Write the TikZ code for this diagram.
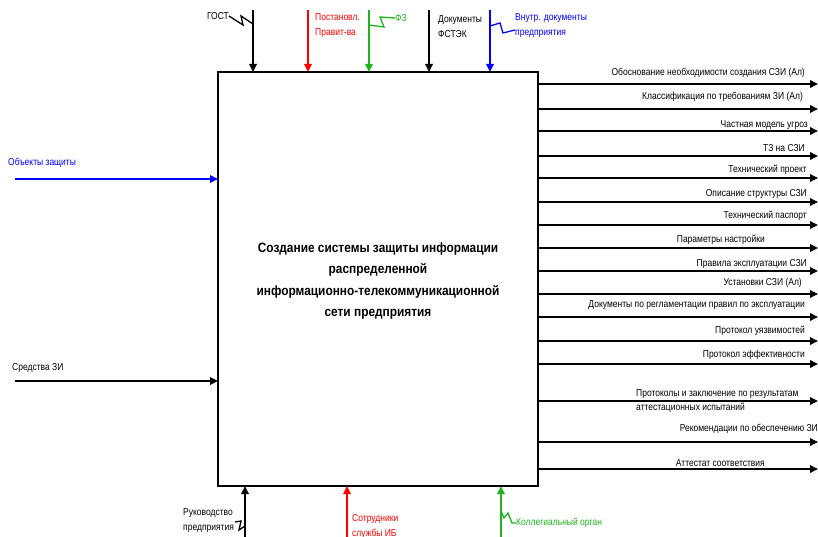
\documentclass[tikz,border=0pt]{standalone}
\usepackage{fontspec}
\setmainfont{Liberation Sans}
\newfontfamily\lbl[FakeStretch=0.85]{Liberation Sans}
\newfontfamily\ttl[FakeStretch=0.88]{Liberation Sans}
\usetikzlibrary{arrows.meta}
\definecolor{idgreen}{RGB}{30,180,30}
\definecolor{idblue}{RGB}{0,0,255}
\definecolor{idred}{RGB}{255,0,0}
\begin{document}
\begin{tikzpicture}[x=1pt,y=-1pt,
  lab/.style={font=\lbl\fontsize{10}{15}\selectfont, inner sep=0pt, align=left},
  arr/.style={line width=1.7pt,-{Triangle[length=8pt,width=7.5pt]}},
  zig/.style={line width=1.3pt}]
\useasboundingbox (0,0) rectangle (818,537);
% main box
\node[draw, line width=2.5pt, minimum width=320pt, minimum height=414pt, inner sep=0pt, outer sep=0pt, anchor=north west] (box) at (218,72) {};
\node[font=\ttl\bfseries\fontsize{13.5}{21.3}\selectfont, align=center, inner sep=0pt] (title) at (378,281)
  {Создание системы защиты информации\\распределенной\\информационно-телекоммуникационной\\сети предприятия};

% ---- top controls ----
\coordinate (c1) at (253,10);
\coordinate (c2) at (308,10);
\coordinate (c3) at (369,10);
\coordinate (c4) at (429,10);
\coordinate (c5) at (490,10);
\draw[arr] (c1) -- (c1 |- box.north);
\draw[arr, idred] (c2) -- (c2 |- box.north);
\draw[arr, idgreen] (c3) -- (c3 |- box.north);
\draw[arr] (c4) -- (c4 |- box.north);
\draw[arr, idblue] (c5) -- (c5 |- box.north);

\node[lab, anchor=east] (tgost) at (229,16) {ГОСТ};
\draw[zig] (tgost.east) -- (243,25) -- (241,16) -- (253,24);
\node[lab, anchor=north west, text=idred] (tpost) at (315,13) {Постановл.\\Правит-ва};
\node[lab, anchor=west, text=idgreen] (tfz) at (395,18) {ФЗ};
\draw[zig, idgreen] (369,25) -- (384,27) -- (380,17) -- (tfz.west);
\node[lab, anchor=north west] (tfst) at (438,15) {Документы\\ФСТЭК};
\node[lab, anchor=north west, text=idblue] (tvn) at (515,13) {Внутр. документы\\предприятия};
\draw[zig, idblue] (490,26) -- (500,23) -- (503,33) -- (515,30);

% ---- left inputs ----
\coordinate (i1) at (15,179);
\coordinate (i2) at (15,381);
\draw[arr, idblue] (i1) -- (i1 -| box.west);
\draw[arr] (i2) -- (i2 -| box.west);
\node[lab, anchor=west, text=idblue] (tin1) at (8,163) {Объекты защиты};
\node[lab, anchor=west] (tin2) at (12,368) {Средства ЗИ};

% ---- bottom mechanisms ----
\coordinate (m1) at (245,537);
\coordinate (m2) at (347,537);
\coordinate (m3) at (501,537);
\draw[arr] (m1) -- (m1 |- box.south);
\draw[arr, idred] (m2) -- (m2 |- box.south);
\draw[arr, idgreen] (m3) -- (m3 |- box.south);
\node[lab, anchor=north west] (truk) at (183,508) {Руководство\\предприятия};
\draw[zig] (235,522) -- (241,521) -- (239,530) -- (245,526);
\node[lab, anchor=north west, text=idred] (tsot) at (352,514) {Сотрудники\\службы ИБ};
\node[lab, anchor=west, text=idgreen] (tkol) at (516,523) {Коллегиальный орган};
\draw[zig, idgreen] (501,511) -- (504,518) -- (508,513) -- (512,523) -- (tkol.west);

% ---- outputs ----
\foreach \n/\y in {1/84,2/109,3/131,4/156,5/178,6/202,7/225,8/248,9/271,10/294,11/317,12/341,13/364,14/401,15/442,16/469}{
  \coordinate (oa\n) at (538,\y);
  \coordinate (ob\n) at (818,\y);
  \draw[arr] (oa\n) -- (ob\n);
}
\node[lab, anchor=east] (to1) at (805,73) {Обоснование необходимости создания СЗИ (Ал)};
\node[lab, anchor=east] (to2) at (803,97) {Классификация по требованиям ЗИ (Ал)};
\node[lab, anchor=east] (to3) at (808,125) {Частная модель угроз};
\node[lab, anchor=east] (to4) at (805,148) {ТЗ на СЗИ};
\node[lab, anchor=east] (to5) at (807,170) {Технический проект};
\node[lab, anchor=east] (to6) at (807,194) {Описание структуры СЗИ};
\node[lab, anchor=east] (to7) at (807,216) {Технический паспорт};
\node[lab, anchor=east] (to8) at (765,240) {Параметры настройки};
\node[lab, anchor=east] (to9) at (807,264) {Правила эксплуатации СЗИ};
\node[lab, anchor=east] (to10) at (802,283) {Установки СЗИ (Ал)};
\node[lab, anchor=east] (to11) at (805,305) {Документы по регламентации правил по эксплуатации};
\node[lab, anchor=east] (to12) at (805,331) {Протокол уязвимостей};
\node[lab, anchor=east] (to13) at (805,355) {Протокол эффективности};
\node[lab, anchor=west, font=\lbl\fontsize{10}{14.5}\selectfont] (to14) at (636,401) {Протоколы и заключение по результатам\\аттестационных испытаний};
\node[lab, anchor=east] (to15) at (818,429) {Рекомендации по обеспечению ЗИ};
\node[lab, anchor=east] (to16) at (765,463) {Аттестат соответствия};
\end{tikzpicture}
\end{document}
